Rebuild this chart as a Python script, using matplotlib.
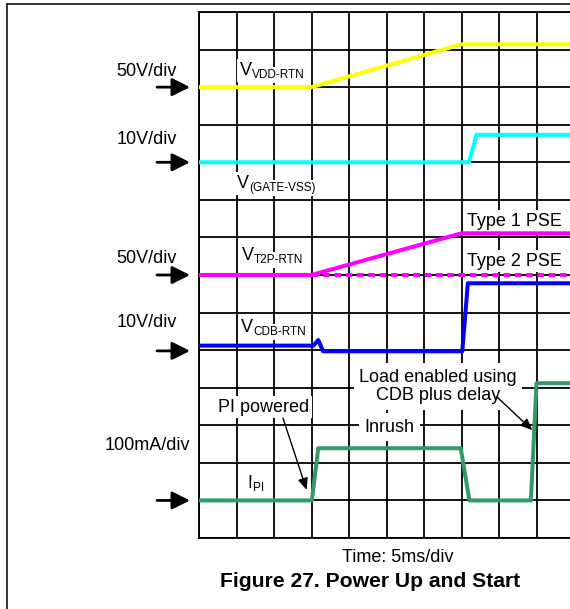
import matplotlib
matplotlib.use('Agg')
import matplotlib.pyplot as plt
from matplotlib.lines import Line2D

plt.rcParams['font.family'] = ['Liberation Sans', 'DejaVu Sans']

# time axis in divisions (5 ms/div), levels in grid divisions from the bottom
time_vdd = [0, 3.0, 7.0, 9.9]
vdd_rtn = [12, 12, 13.14, 13.14]

time_gate = [0, 7.2, 7.4, 9.9]
gate_vss = [10, 10, 10.73, 10.73]

time_t2p_type1 = [0, 3.0, 7.0, 9.9]
t2p_type1 = [7, 7, 8.11, 8.11]
time_t2p_type2 = [3.0, 9.9]
t2p_type2 = [7, 7]

time_cdb = [0, 3.05, 3.18, 3.31, 7.02, 7.17, 9.9]
cdb_rtn = [5.12, 5.12, 5.27, 4.97, 4.97, 6.78, 6.78]

time_ipi = [0, 3.01, 3.18, 6.98, 7.21, 8.85, 9.0, 9.9]
i_pi = [1, 1, 2.39, 2.39, 1, 1, 4.12, 4.12]

scale_labels = ['50V/div', '10V/div', '50V/div', '10V/div', '100mA/div']
scale_label_y = [12.30, 10.50, 7.33, 5.62, 2.34]
marker_levels = [12, 10, 7, 4.98, 1]

W, H = 570, 609
fig = plt.figure(figsize=(W / 100, H / 100), dpi=100)
ax = fig.add_axes([199 / W, 71 / H, 371 / W, 526 / H])
ax.set_xlim(0, 371 / 37.5)
ax.set_ylim(0, 14)

# scope grid
ax.set_xticks(range(10))
ax.set_yticks(range(15))
ax.tick_params(length=0, labelbottom=False, labelleft=False)
ax.set_axisbelow(True)
ax.grid(True, color='black', lw=1.3)
for side in ['left', 'top', 'bottom']:
    ax.spines[side].set_linewidth(1.3)
ax.spines['right'].set_visible(False)

lw = 2.9
ax.plot(time_vdd, vdd_rtn, color='#ffff00', lw=lw, zorder=3)
ax.plot(time_gate, gate_vss, color='#00ffff', lw=lw, zorder=3)
ax.plot(time_t2p_type2, t2p_type2, color='#ff00ff', lw=lw, zorder=3,
        dashes=(1.6, 1.2), dash_capstyle='butt')
ax.plot(time_t2p_type1, t2p_type1, color='#ff00ff', lw=lw, zorder=3)
ax.plot(time_cdb, cdb_rtn, color='#0000ff', lw=lw, zorder=3)
ax.plot(time_ipi, i_pi, color='#339966', lw=lw, zorder=3)

white = dict(facecolor='white', edgecolor='none', boxstyle='square,pad=0.15')


def label(x, y, main, sub):
    t = ax.text(x, y, main, fontsize=13, va='baseline', ha='left', bbox=white, zorder=2)
    ax.annotate(sub, xy=(1, 0), xycoords=t, xytext=(0.3, -1.5), textcoords='offset points',
                fontsize=8.5, va='bottom', ha='left', bbox=white, zorder=2)


label(1.09, 12.32, 'V', 'VDD-RTN')
label(1.01, 9.32, 'V', '(GATE-VSS)')
label(1.14, 7.40, 'V', 'T2P-RTN')
label(1.11, 5.49, 'V', 'CDB-RTN')
label(1.30, 1.33, 'I', 'PI')

ax.text(7.15, 8.30, 'Type 1 PSE', fontsize=13, va='baseline', bbox=white, zorder=2)
ax.text(7.15, 7.25, 'Type 2 PSE', fontsize=13, va='baseline', bbox=white, zorder=2)
ax.text(5.09, 2.83, 'Inrush', fontsize=13, ha='center', va='baseline',
        bbox=dict(facecolor='white', edgecolor='none', boxstyle='square,pad=0.3'), zorder=2)
ax.text(6.37, 3.67, 'Load enabled using\nCDB plus delay', fontsize=13, ha='center',
        va='baseline', linespacing=1.1,
        bbox=dict(facecolor='white', edgecolor='none', boxstyle='square,pad=0.3'), zorder=2)
ax.text(1.72, 3.36, 'PI powered', fontsize=13, ha='center', va='baseline',
        bbox=white, zorder=2)

thin = dict(arrowstyle='-|>,head_length=0.7,head_width=0.3', color='black', lw=1.0,
            shrinkA=0, shrinkB=0, mutation_scale=10)
ax.annotate('', xy=(2.87, 1.28), xytext=(2.24, 3.19), arrowprops=thin, zorder=4)
ax.annotate('', xy=(8.89, 2.87), xytext=(7.94, 3.76), arrowprops=thin, zorder=4)

# scale markers on the left
thick = dict(arrowstyle='-|>,head_length=0.9,head_width=0.45', color='black', lw=2.0,
             shrinkA=0, shrinkB=0, mutation_scale=12)
for lvl, txt, ty in zip(marker_levels, scale_labels, scale_label_y):
    ax.annotate('', xy=(-0.24, lvl), xytext=(-1.12, lvl), arrowprops=thick,
                annotation_clip=False)
    ax.text(-1.39, ty, txt, fontsize=13, ha='center', va='baseline', clip_on=False)

fig.text(398 / W, 1 - 562 / H, 'Time: 5ms/div', fontsize=13, ha='center', va='baseline')
fig.text(370 / W, 1 - 587 / H, 'Figure 27. Power Up and Start', fontsize=15.2,
         fontweight='bold', ha='center', va='baseline')

# outer frame (cropped)
fig.add_artist(Line2D([6.5 / W, 6.5 / W], [0, 1 - 4.3 / H], color='black', lw=1.1))
fig.add_artist(Line2D([6.5 / W, 1], [1 - 4.3 / H, 1 - 4.3 / H], color='black', lw=1.1))

fig.savefig('out.png', dpi=100)
plt.close(fig)
